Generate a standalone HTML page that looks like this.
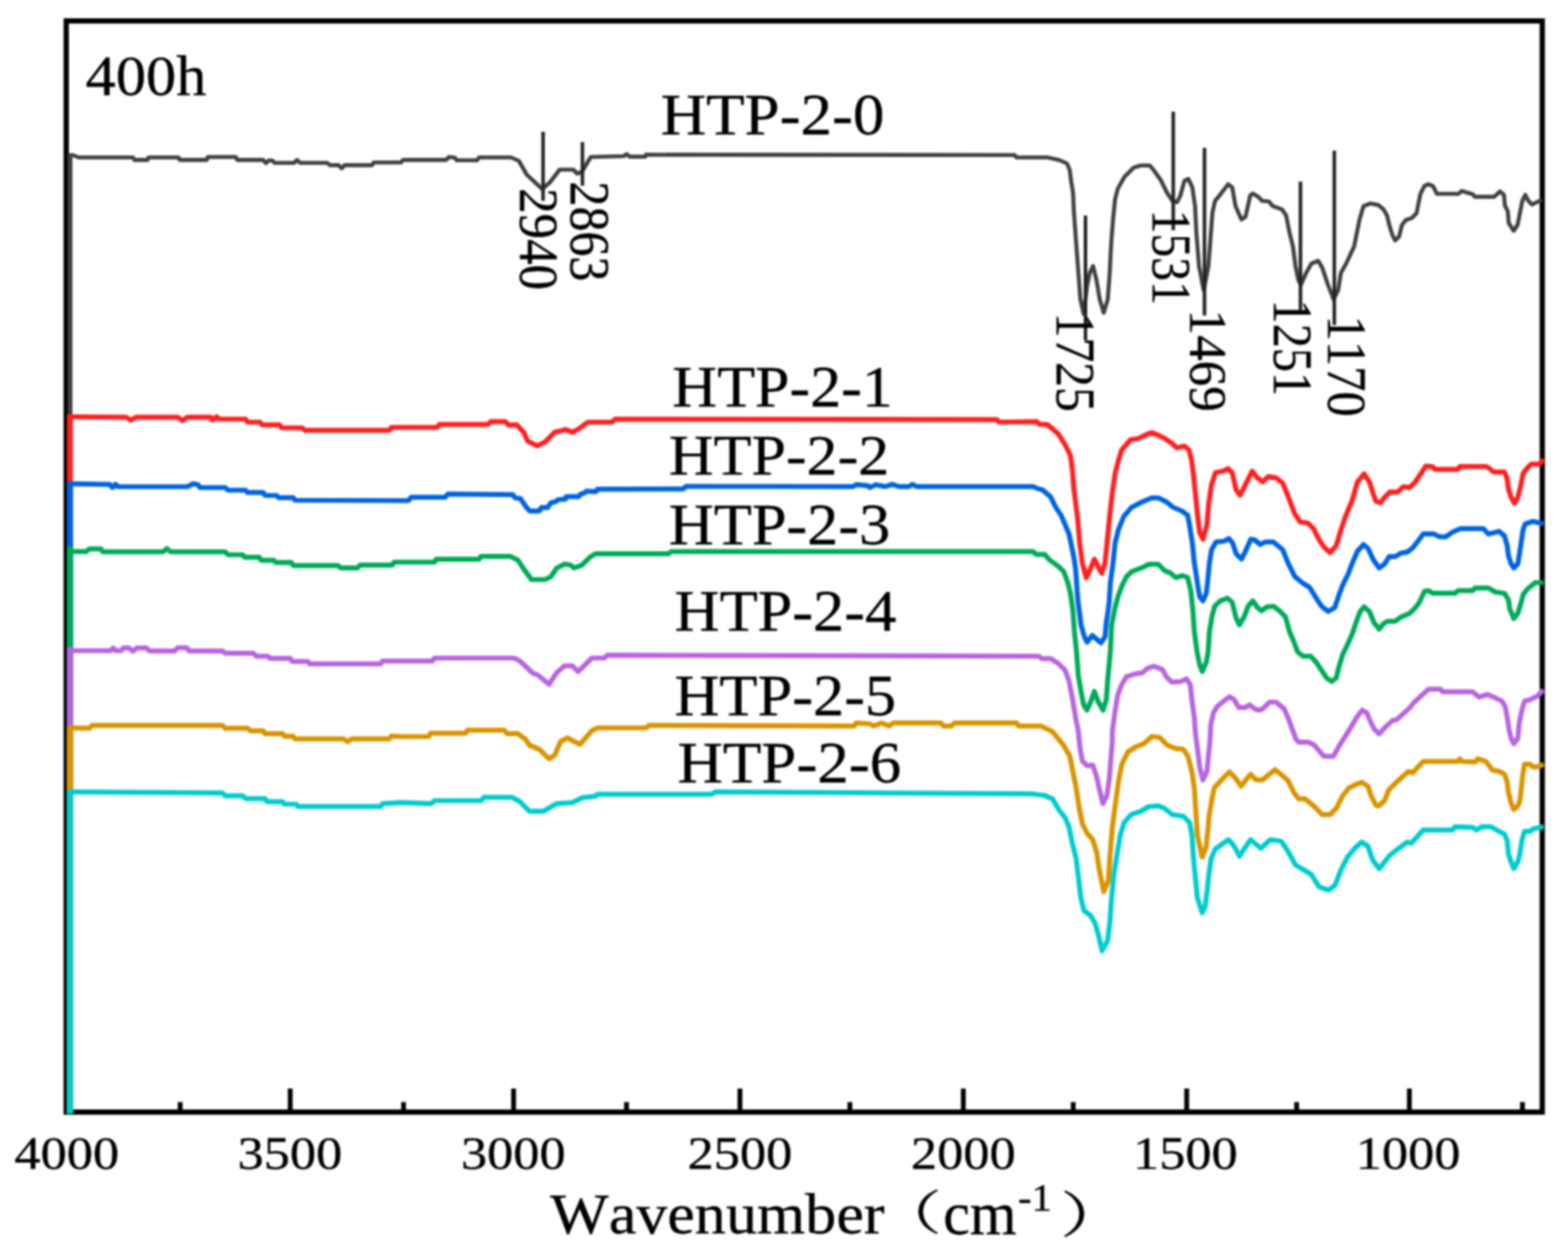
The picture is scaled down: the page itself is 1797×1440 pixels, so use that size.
<!DOCTYPE html><html><head><meta charset="utf-8"><title>FTIR 400h</title><style>html,body{margin:0;padding:0;background:#fff;}svg{display:block}text{font-kerning:none}</style></head><body>
<svg width="1797" height="1440" viewBox="0 0 1797 1440">
<rect width="1797" height="1440" fill="#fff"/>
<defs><filter id="soft" x="0" y="0" width="100%" height="100%" color-interpolation-filters="sRGB"><feGaussianBlur stdDeviation="0.8"/></filter></defs>
<g filter="url(#soft)">
<rect width="1797" height="1440" fill="#fff"/>
<rect x="75.9" y="24" width="1691.6" height="1251" fill="none" stroke="#000" stroke-width="6.0"/>
<line x1="332.6" y1="1248" x2="332.6" y2="1275" stroke="#000" stroke-width="5.5"/>
<line x1="588.6" y1="1248" x2="588.6" y2="1275" stroke="#000" stroke-width="5.5"/>
<line x1="848" y1="1248" x2="848" y2="1275" stroke="#000" stroke-width="5.5"/>
<line x1="1104" y1="1248" x2="1104" y2="1275" stroke="#000" stroke-width="5.5"/>
<line x1="1360" y1="1248" x2="1360" y2="1275" stroke="#000" stroke-width="5.5"/>
<line x1="1615.2" y1="1248" x2="1615.2" y2="1275" stroke="#000" stroke-width="5.5"/>
<line x1="206.5" y1="1263.5" x2="206.5" y2="1275" stroke="#000" stroke-width="5.5"/>
<line x1="462.5" y1="1263.5" x2="462.5" y2="1275" stroke="#000" stroke-width="5.5"/>
<line x1="718" y1="1263.5" x2="718" y2="1275" stroke="#000" stroke-width="5.5"/>
<line x1="974" y1="1263.5" x2="974" y2="1275" stroke="#000" stroke-width="5.5"/>
<line x1="1230" y1="1263.5" x2="1230" y2="1275" stroke="#000" stroke-width="5.5"/>
<line x1="1486" y1="1263.5" x2="1486" y2="1275" stroke="#000" stroke-width="5.5"/>
<line x1="1744.8" y1="1263.5" x2="1744.8" y2="1275" stroke="#000" stroke-width="5.5"/>
<line x1="80.2" y1="1277" x2="80.2" y2="176" stroke="#404040" stroke-width="5.52"/>
<path d="M79.5 177.8 L84 178 L90 180.5 L152.4 180.5 L154 183.4 L169 183.4 L170 180.5 L204.7 180.5 L206 183.4 L237 183.4 L238 180 L270.3 180 L272 183.4 L301.5 183.4 L304.8 187 L308 184 L312 184 L314.9 186.7 L337.1 186.7 L340.4 183.4 L343.8 186.7 L375 186.7 L378 189.4 L388 189.4 L391.7 193 L395 189.4 L426.2 189.4 L428.4 186.3 L459.5 186.3 L461.8 183.4 L511.2 183.4 L514.6 180 L521.2 180.7 L523.5 183.8 L546.8 183.8 L549 180.5 L585.8 180.5 L594.7 184.5 L603.6 200.1 L621.4 216.8 L630.3 209 L641.4 194.5 L657 194.5 L661.5 199 L667 196.8 L677 180 L714.9 179 L718.2 176.7 L721.6 179.6 L739.4 179.6 L740.5 177.4 L1162.8 177.8 L1165 180.5 L1200.6 180.5 L1213.8 183.5 L1222.9 187.5 L1226 195.1 L1227.5 207.4 L1229.8 221.1 L1230.6 241 L1233.6 282.2 L1235.9 312.8 L1238.2 343.3 L1242 360.2 L1245.8 328 L1248.9 312.8 L1252.7 305.1 L1256.5 320.4 L1260.4 343.3 L1264.9 358.6 L1269.5 343.3 L1271.8 312.8 L1273.3 282.2 L1275.6 251.7 L1277.9 228.8 L1281 216.5 L1288.6 202.8 L1299.3 192.1 L1307 189.8 L1317.6 189.8 L1322.2 195.1 L1329.9 205.8 L1337.5 221.1 L1343.6 230.3 L1349 231.8 L1352.8 224.2 L1357.4 207.4 L1362 205.1 L1366.5 215 L1369.6 236.4 L1371.1 267 L1374.2 305.1 L1379.5 332.7 L1384.9 305.1 L1387.2 274.6 L1389.5 244 L1392.5 230.3 L1397.6 224.2 L1407.6 211.2 L1412.2 215 L1416 236.4 L1422.8 251.7 L1427.4 248.6 L1432.8 224.2 L1435.8 221.9 L1442 225.7 L1446.5 230.3 L1454.2 231 L1458.8 236.4 L1469.4 240.2 L1474 247.1 L1477.9 267 L1481.7 282.2 L1484.7 305.1 L1487.8 320.4 L1490.8 326.5 L1497 312.8 L1503 302.1 L1510.7 299 L1515.3 306.7 L1521.4 325 L1528.3 343.3 L1533.6 332.7 L1536.7 312.8 L1542.8 302.1 L1552 282.2 L1555 267 L1558.1 251.7 L1562.6 236.4 L1570.3 233.3 L1579.5 234.9 L1585.6 240.1 L1589.5 246.8 L1592.2 257.9 L1595.6 269 L1598.9 275.7 L1603.4 271.3 L1606.7 257.9 L1611.2 252.3 L1617.8 250.1 L1623.4 244.6 L1625.6 233.4 L1627.9 222.3 L1632.3 213.4 L1636.8 211.2 L1642.3 213.4 L1646.8 222.3 L1671.3 222.3 L1675.2 219 L1688 222.8 L1690.2 225.6 L1712.4 225.6 L1719.1 219.5 L1723.6 223.4 L1724.7 235.6 L1728 242.3 L1729.1 255.7 L1734.7 264.6 L1739.2 257.9 L1742.5 241.2 L1744.7 230.1 L1748.1 223.4 L1751.4 230.1 L1755.8 234.5 L1760.3 232.3 L1767 229" fill="none" stroke="#404040" stroke-width="4.6" stroke-linejoin="round" stroke-linecap="butt"/>
<line x1="80.2" y1="1277" x2="80.2" y2="475.45" stroke="#ff2020" stroke-width="6.84"/>
<path d="M79.5 477.8 L144.6 478.3 L150.1 481.8 L155.7 478.3 L203.6 478.3 L209.1 482.3 L214.7 478.3 L241.4 478.3 L243.6 481.8 L248.1 477.8 L251.4 480.5 L281.5 480.5 L283.7 484 L298.2 484 L300.4 487.2 L320.4 487.2 L322.6 490.5 L346 490.5 L349.4 493.4 L446.2 493.4 L448.4 490 L501.2 490 L503.4 486.7 L559.1 486.7 L562.4 483.4 L579.1 483.4 L582.4 487.2 L592.4 487.2 L600.2 495.6 L604.7 505.6 L615.8 511.2 L624.7 506.7 L635.8 495.6 L644.8 493.4 L648.1 492.3 L655.9 495.6 L662.6 492.3 L673.7 484 L701.5 484 L704.9 480.5 L1142.7 481.1 L1144.9 484 L1188.3 483.4 L1190.6 486.3 L1200.7 486.8 L1212.9 497.5 L1220.6 509.7 L1226.7 522 L1229 538.8 L1230.5 558.6 L1232.8 577 L1235.1 595.3 L1237.4 622.8 L1240.4 645.7 L1245 662.5 L1250.4 650.3 L1254.2 641.1 L1258.8 650.3 L1262.6 657.2 L1266.4 645.7 L1268.7 622.8 L1271.7 592.2 L1274.8 564.7 L1277.9 543.3 L1281.7 528.1 L1285.5 515.8 L1295.4 504.4 L1304.6 502.8 L1312.2 499 L1319.9 496 L1327.5 499 L1335.1 502.8 L1342.8 508.2 L1348.9 513.5 L1357.3 511.3 L1362.6 515.8 L1365.7 528.1 L1368 546.4 L1370.3 569.3 L1372.6 592.2 L1374.9 610.6 L1378.7 618.2 L1383.1 602 L1385.3 577 L1388.4 556 L1393 541.8 L1401.4 540.3 L1407.5 537.2 L1412.1 541.8 L1416.7 561.7 L1421.3 567.8 L1427.4 555.6 L1435 540.3 L1441.1 547.9 L1447.2 552.5 L1453.3 546.4 L1462.5 547.9 L1470.1 554 L1476.3 569.3 L1483.9 589.2 L1490 598.3 L1499.2 599.9 L1505.3 606 L1511.4 618.2 L1517.5 627.4 L1524.4 633.5 L1531.3 625.8 L1535.8 610.6 L1542 592.2 L1549.6 573.9 L1555.7 552.5 L1563.3 543.3 L1569.5 552.5 L1573.1 564.1 L1576.9 574.8 L1582.2 576.4 L1586.8 570.3 L1592.9 564.1 L1602.1 564.1 L1608.2 558 L1615.8 558.8 L1621.9 552.7 L1626.5 545.8 L1634.1 534.4 L1641.8 535.1 L1644.8 538.2 L1670.8 538.2 L1673.1 534.8 L1702.9 534.8 L1707.4 537.4 L1712 541.2 L1724.2 541.2 L1727.3 548.9 L1728.8 561.1 L1731.9 570.3 L1735.7 577.1 L1739.5 570.3 L1742.6 558 L1745.6 542.8 L1750.2 536.7 L1754.8 532.1 L1764 532.1 L1769 526.7" fill="none" stroke="#ff2020" stroke-width="5.7" stroke-linejoin="round" stroke-linecap="butt"/>
<line x1="80.2" y1="1277" x2="80.2" y2="552.25" stroke="#0064e0" stroke-width="6.84"/>
<path d="M79.5 554.6 L125.6 555.3 L129 559 L132.3 555.3 L135.7 558 L214.7 558 L221.4 554.6 L226.9 555.7 L229.2 559 L258.1 559 L261.4 562 L281.5 562 L283.7 564.6 L301.5 564.6 L303.7 568 L317.1 568 L319.3 570.6 L336 570.6 L338.2 573.5 L468 574 L471.1 570.2 L510.1 570.2 L513.4 566.4 L587.6 567.2 L590.3 570.7 L596.5 571.6 L599.2 575.6 L602.7 581 L607.2 585.9 L617.9 585.9 L620.6 581.9 L627.7 581.9 L631.2 576.5 L636.6 575.2 L639.3 573 L648.2 572.1 L649 569.4 L663.3 569.4 L665.1 566.7 L670.4 564.9 L671.8 563.2 L682.9 563.6 L684.7 560.9 L782.8 560.6 L786.1 557.5 L978 557.9 L981.3 555.7 L994.7 556.8 L996.9 559 L1003.6 555.7 L1014.7 557.9 L1022.5 555.3 L1030.3 557.9 L1041.4 557.9 L1045.9 555.3 L1050.3 557.9 L1183.9 557.9 L1190 560.5 L1194.6 561.5 L1203.8 569.3 L1209.9 581.5 L1216 590.7 L1220.6 601.4 L1225.1 612.1 L1227.4 622.8 L1230.5 638.1 L1232.8 653.3 L1234.3 675 L1235.5 690 L1237.4 704.2 L1238.9 716.4 L1242.7 730.1 L1245.8 736.3 L1251.9 728.6 L1257.2 733.2 L1261.8 737 L1266.4 730.1 L1267.9 713.3 L1269.4 704.2 L1271.2 690 L1272.5 668.6 L1275.6 645.7 L1277.9 622.8 L1281.7 607.5 L1287.8 592.2 L1297 581.5 L1309.2 575.4 L1319.9 570.8 L1327.5 570.8 L1336.7 575.4 L1344.3 581.5 L1355 586.1 L1361.1 590.7 L1363.4 602.9 L1366.5 622.8 L1368.8 645.7 L1370.8 658 L1372.6 670.6 L1374.9 684.3 L1378.7 688.9 L1382.5 680 L1384 667 L1386 645.7 L1388.5 630.4 L1393.8 621.3 L1402.9 620.5 L1408.3 617.4 L1412.8 622.8 L1416.7 635 L1422.8 641.1 L1427.4 632 L1433.5 618.2 L1438.1 619 L1444.2 624.3 L1450.3 621.3 L1459.4 621.3 L1470.1 630.4 L1476.3 645.7 L1483.9 661 L1493.1 668.6 L1500.7 673.2 L1508.3 685.4 L1514.5 695 L1522.1 701.1 L1529.7 696.5 L1534.3 682.8 L1538.9 670.6 L1545 658.3 L1549.6 646.1 L1555.7 632 L1562.6 624.3 L1567.9 628.9 L1574 642 L1580.7 651.2 L1586.8 646.6 L1592.1 638.2 L1599 638.2 L1605.1 634.4 L1612.8 632.9 L1618.9 628.3 L1625 620.6 L1631.1 612.2 L1643.3 612.2 L1649.4 615.3 L1657 615.3 L1664.7 610 L1673.8 606.1 L1699.8 606.1 L1705.9 612.2 L1718.1 609.2 L1724.2 614.5 L1727.3 625.2 L1728.8 637.4 L1731.9 646.6 L1734.9 651.2 L1739.5 646.6 L1741 637.4 L1743.3 622.2 L1745.6 606.9 L1747.9 600.8 L1757.1 597.7 L1769 600.8" fill="none" stroke="#0064e0" stroke-width="5.7" stroke-linejoin="round" stroke-linecap="butt"/>
<line x1="80.2" y1="1277" x2="80.2" y2="626.55" stroke="#00aa5a" stroke-width="6.84"/>
<path d="M79.5 628.9 L83.4 632.3 L98.9 632.3 L102.3 629.4 L115.6 629.4 L117.9 632.7 L186.9 632.7 L191.3 628.9 L195.8 632.7 L258.1 632.7 L261.4 636 L278.1 636 L280.4 638.9 L297 638.9 L299.3 642.3 L313.7 642.3 L316 644.9 L333.8 644.9 L336 648.3 L387.2 648.3 L390.5 651.2 L409.5 651.2 L412.8 647.8 L449.5 647.8 L451.7 644.5 L497.8 644.5 L500.1 641.2 L549 641.2 L551.3 637.8 L584.7 637.8 L593.6 642.3 L600.2 652.3 L609.1 664.5 L624.7 664.5 L631.4 661.2 L638.1 651.2 L647 646.7 L653.7 647.8 L658.1 651.2 L667 647.8 L675.9 638.9 L682.6 634.9 L766.1 634.9 L769.4 632.3 L1183.9 632.3 L1187.2 635.6 L1197.4 635.5 L1202.2 641.5 L1212.9 649.2 L1219 655.3 L1223.6 667.5 L1226.7 679.7 L1229.7 701.1 L1231.3 724 L1233.5 743.9 L1235.8 774.5 L1238.9 792.8 L1241.9 808.1 L1245.8 814.2 L1250.4 803.5 L1254.2 792.8 L1258.8 805 L1264.1 814.2 L1267.9 802 L1269.4 780.6 L1272.5 747 L1274 716.4 L1277.9 696.5 L1281.7 682.8 L1286.3 670.6 L1290.8 661.4 L1297 655.3 L1309.2 650.7 L1316.8 646.9 L1327.5 646.9 L1335.1 654.5 L1341.3 656.8 L1347.4 662.2 L1355 659.9 L1361.1 662.2 L1364.9 678.2 L1367.2 701.1 L1368.8 724 L1371.8 747 L1374.9 762.2 L1377.9 769.9 L1382.5 759.2 L1384.6 747 L1386.1 724 L1389.2 705.7 L1392.2 695 L1398.3 688.9 L1406.7 685.8 L1412.1 690.4 L1416.7 708.8 L1420.5 716.4 L1425.8 707.2 L1430.4 695 L1435.8 688.9 L1441.1 696.5 L1445.7 700.4 L1451.8 695.8 L1459.4 695 L1467.1 701.1 L1473.2 707.2 L1477.8 724 L1482.4 734.7 L1487 747 L1493.1 752.3 L1502.2 752.3 L1508.3 759.2 L1514.5 768.3 L1520.6 777.5 L1525.9 781.3 L1531.3 777.5 L1534.3 765.3 L1538.9 750 L1543.5 740.8 L1549.6 727.1 L1554.2 713.3 L1558.8 701.1 L1563.3 695.8 L1569.5 701.1 L1574.6 713.8 L1580.7 721.4 L1585.3 715.3 L1589.9 712.3 L1599 712.3 L1605.1 707.7 L1615.8 703.1 L1621.9 697 L1626.5 690.9 L1632.6 677.9 L1637.2 677.2 L1641.8 680.2 L1667.7 680.2 L1670.8 677.2 L1687.6 677.2 L1690.6 674.1 L1705.9 674.1 L1713.6 678.7 L1724.2 680.2 L1728.8 687.8 L1730.4 698.5 L1734.9 709.2 L1739.5 703.1 L1743.3 690.9 L1745.6 681.7 L1750.2 675.6 L1759.4 668 L1769 668" fill="none" stroke="#00aa5a" stroke-width="5.7" stroke-linejoin="round" stroke-linecap="butt"/>
<line x1="80.2" y1="1277" x2="80.2" y2="742.15" stroke="#b865e0" stroke-width="6.84"/>
<path d="M79.5 744.5 L83.4 746 L126.8 746 L129.7 742.9 L132.3 746 L139 746 L141.2 742.9 L147.9 742.9 L152.4 746.7 L156.8 742.9 L167.9 742.9 L171.3 746.3 L200.2 746.3 L203.6 742.7 L213.6 742.7 L216.9 746.3 L254.8 746.3 L258.1 748.9 L290.4 748.9 L293.7 752.3 L307.1 752.3 L309.3 754.9 L332.7 754.9 L334.9 758.3 L352.7 758.3 L354.9 761.2 L436.2 761.2 L438.4 757.8 L495.6 757.8 L497.8 754.5 L589.1 754.5 L595.8 757.8 L611.4 772.3 L615.8 773.4 L629.2 784.6 L638.1 771.2 L647 763.4 L655.9 763.4 L662.6 770.1 L678.1 754.5 L692.6 754.5 L696 751.2 L1190.6 752.3 L1193.9 755.2 L1203.8 755 L1212.9 760.7 L1220.6 768.3 L1225.1 780.6 L1229 800.4 L1232.8 823.3 L1235.8 838.6 L1237.8 858 L1240.5 872.5 L1246 877.9 L1252.3 877 L1256.8 890.5 L1260.4 906.8 L1264 921.2 L1268.5 912.2 L1271.2 894.2 L1273 872.5 L1274.8 849 L1274.8 838.6 L1277.9 815.7 L1280.9 797.4 L1284.7 786.7 L1290.8 776 L1300 772.9 L1309.2 771.4 L1315.3 766.1 L1322.9 763.8 L1332.1 767.6 L1336.7 776 L1342.8 782.1 L1353.5 781.3 L1359.6 778.3 L1364.2 785.2 L1365.7 800.4 L1368.8 823.3 L1370.3 843.2 L1372.3 858 L1375 879.7 L1378.6 894.2 L1383.1 885.1 L1384.9 867.1 L1386.7 849 L1387.6 831 L1390.7 817.2 L1395.3 809.6 L1402.9 803.5 L1409 798.9 L1414.4 802 L1419.7 811.1 L1427.4 811.1 L1431.9 808.1 L1438.1 812.7 L1442.6 814.2 L1447.2 812.7 L1454.9 805 L1462.5 805 L1471.7 812.7 L1476.3 823.3 L1480.8 835.6 L1485.4 847.8 L1488.3 850.8 L1499.1 850.8 L1506.4 854.4 L1517.2 867.1 L1528 867.1 L1535.2 854.4 L1540.4 846.3 L1548.1 834 L1554.2 823.3 L1561.1 814.2 L1566.4 817.2 L1571 828 L1575 836 L1580.7 841.3 L1586.8 834.4 L1596 826 L1600.5 825.2 L1615.8 811.5 L1620.4 805.4 L1637.2 790.1 L1650.9 790.1 L1653.2 793.2 L1687.6 793.2 L1695.2 799.3 L1704.4 796.2 L1712 799.3 L1721.2 803.8 L1725 810 L1727.3 822.2 L1729.6 837.4 L1731.9 846.6 L1734.9 852.7 L1739.5 846.6 L1741 829.8 L1744.1 814.5 L1747.2 803.8 L1753.3 802.3 L1762.4 797.7 L1768.5 790.9" fill="none" stroke="#b865e0" stroke-width="5.7" stroke-linejoin="round" stroke-linecap="butt"/>
<line x1="80.2" y1="1277" x2="80.2" y2="832.15" stroke="#d99400" stroke-width="6.84"/>
<path d="M79.5 834.5 L102.3 834.9 L105.6 831.6 L254.8 831.6 L258.1 834.9 L283.7 834.9 L287 837.8 L301.5 837.8 L303.7 841.2 L323.8 841.2 L326 844.1 L336 844.1 L338.2 847.2 L393.9 847.2 L398.3 850.5 L402.8 847.2 L446.2 847.2 L448.4 843.8 L460 844.5 L491.2 844.5 L493.4 840.7 L533.5 840.7 L535.7 837.2 L578 837.2 L581.3 841.2 L593.6 841.2 L602.5 847.8 L606.9 854.5 L618 859 L629.2 870.1 L635.9 865.6 L642.5 850.1 L650.3 846.1 L658.1 850.1 L664.8 853.4 L671.5 845.6 L678.1 837.8 L684.8 834.5 L740.5 834.5 L743.8 831.6 L979.1 832.3 L981.3 828.9 L996.9 830 L1001.4 832.3 L1010.3 828.9 L1019.2 832.3 L1023.6 828.9 L1078.2 828.9 L1081.5 832.3 L1090.4 832.3 L1093.7 828.9 L1165 828.9 L1167.2 832.3 L1192.8 832.3 L1206.2 838.9 L1218.9 854.4 L1226.1 867.1 L1229.7 885.1 L1233.3 903.2 L1236.9 926.6 L1240.5 944.7 L1246 955.5 L1252.3 962.7 L1256.8 977.2 L1259.5 995.2 L1264.9 1022.3 L1270.3 1009.7 L1272.1 980.8 L1274.8 948.3 L1278.4 921.2 L1282.1 894.2 L1285.7 876.1 L1292.9 861.7 L1301.9 856.2 L1310.9 852.6 L1320 844.5 L1329 845.4 L1338 854.4 L1347 858.1 L1356.1 859 L1361.5 867.1 L1366 885.1 L1368.7 903.2 L1370.5 930.3 L1372.3 957.3 L1377.7 982.6 L1382 972 L1384 955 L1385.6 935.7 L1389 915.8 L1391.7 903.2 L1399.9 894.2 L1408.9 885.1 L1416.1 892.3 L1422.4 901.4 L1427.8 894.2 L1433.2 887.8 L1439.6 894.2 L1446.8 894.2 L1461.2 882.4 L1475.7 894.2 L1482.9 908.6 L1488.3 915.8 L1495.5 915.8 L1506.4 924.8 L1515.4 933.9 L1524.4 933.9 L1531.6 926.6 L1538.8 912.2 L1546.1 903.2 L1553.3 899.6 L1560.5 896.9 L1567.7 901.4 L1571.3 912.2 L1576.8 923 L1579.9 924.1 L1586.8 918 L1591.4 905.8 L1600.5 896.7 L1614.3 884.4 L1618.9 886 L1631.1 873 L1670.8 873 L1673.1 869.9 L1675.4 873 L1690.6 873.7 L1693.7 869.9 L1702.9 873 L1710.5 882.9 L1718.1 884.4 L1724.2 887.5 L1727.3 896.7 L1728.8 908.9 L1731.9 921.1 L1734.9 928 L1739.5 924.1 L1741.8 918 L1743.3 905.8 L1744.9 890.5 L1747.2 876 L1753.3 876 L1756.3 879.1 L1762.4 879.1 L1769 876" fill="none" stroke="#d99400" stroke-width="5.7" stroke-linejoin="round" stroke-linecap="butt"/>
<line x1="80.2" y1="1277" x2="80.2" y2="905.55" stroke="#00cccc" stroke-width="6.84"/>
<path d="M79.5 907.9 L254.8 909.1 L258.1 912.4 L278.1 912.4 L281.5 915.7 L303.7 915.7 L306 919.1 L323.8 919.1 L326 922 L339.3 922 L341.6 924.6 L436.2 924.6 L438.4 921.3 L460 920.2 L494.5 921.3 L497.8 918 L551.3 918 L554.6 914.2 L586.9 914.2 L595.8 919.1 L606.9 930.2 L622.5 930.2 L638.1 921.3 L655.9 920.2 L667 914.6 L682.6 912.8 L684.8 910.6 L816.2 910.6 L819.5 907.9 L1183.9 910.2 L1197.2 912 L1206.2 915.8 L1213.5 928.4 L1220.7 937.5 L1225.2 948.3 L1228.8 966.4 L1233.3 984.4 L1236 1006.1 L1238.7 1029.5 L1242.3 1044 L1249.6 1049.4 L1255 1058.4 L1258.6 1071 L1263.1 1090 L1269.4 1078.3 L1272.1 1056.6 L1273.9 1029.5 L1276.6 1002.5 L1280.3 979 L1283.9 957.3 L1288.4 942.9 L1296.5 933.9 L1307.3 930.3 L1316.4 924.8 L1327.2 923.9 L1334.4 926.6 L1343.4 933.9 L1356.1 935.7 L1363.3 942.9 L1366 957.3 L1367.8 984.4 L1369.6 1002.5 L1372.3 1029.5 L1377.7 1046.5 L1381 1040 L1383.6 1020.5 L1385.4 1002.5 L1388 984.4 L1392.6 973.6 L1399.9 968.2 L1408 962.7 L1414.3 970 L1420.6 981.7 L1426.9 971.8 L1433.2 962.7 L1445 972.7 L1455.8 962.7 L1468.4 964.5 L1475.7 975.4 L1484.7 991.6 L1493.7 997 L1502.7 1002.5 L1511.8 1016.9 L1522.6 1020.5 L1529.8 1015.1 L1537 997 L1544.3 982.6 L1553.3 971.8 L1560.5 965.5 L1567.7 970 L1573.1 986 L1580.7 995.9 L1586.8 988.3 L1592.9 980.6 L1600.5 974.5 L1612.8 965.4 L1617.3 966.9 L1631.1 951.6 L1664.7 951.6 L1667.7 947.8 L1687.6 948.6 L1692.2 951.6 L1698.3 947.8 L1709 947.8 L1715.1 951.6 L1724.2 956.2 L1727.3 963.8 L1728.8 979.1 L1731.9 988.3 L1734.9 995.9 L1739.5 988.3 L1741.8 979.1 L1744.1 963.8 L1747.2 953.2 L1753.3 953.2 L1757.8 950.1 L1769 947.8" fill="none" stroke="#00cccc" stroke-width="5.7" stroke-linejoin="round" stroke-linecap="butt"/>
<line x1="622.4" y1="151.1" x2="622.4" y2="230.3" stroke="#222" stroke-width="4"/>
<line x1="667.5" y1="162.9" x2="667.5" y2="212.9" stroke="#222" stroke-width="4"/>
<line x1="1244" y1="247.1" x2="1244" y2="390" stroke="#222" stroke-width="4"/>
<line x1="1344.6" y1="128" x2="1344.6" y2="263.9" stroke="#222" stroke-width="4"/>
<line x1="1380.4" y1="169.4" x2="1380.4" y2="361.7" stroke="#222" stroke-width="4"/>
<line x1="1490.4" y1="208.2" x2="1490.4" y2="355.6" stroke="#222" stroke-width="4"/>
<line x1="1529.2" y1="172.8" x2="1529.2" y2="372.4" stroke="#222" stroke-width="4"/>
<text transform="translate(98.12 109.39) scale(0.6919 0.6563)" font-family='"Liberation Serif", "Times New Roman", serif' font-size="100" fill="#000" stroke="#000" stroke-width="0.59">400h</text>
<text transform="translate(757.24 154.07) scale(0.7212 0.6672)" font-family='"Liberation Serif", "Times New Roman", serif' font-size="100" fill="#000" stroke="#000" stroke-width="0.58">HTP-2-0</text>
<text transform="translate(770.57 466) scale(0.7107 0.6667)" font-family='"Liberation Serif", "Times New Roman", serif' font-size="100" fill="#000" stroke="#000" stroke-width="0.58">HTP-2-1</text>
<text transform="translate(766.47 543.9) scale(0.7107 0.6631)" font-family='"Liberation Serif", "Times New Roman", serif' font-size="100" fill="#000" stroke="#000" stroke-width="0.58">HTP-2-2</text>
<text transform="translate(766.46 624.22) scale(0.7140 0.6788)" font-family='"Liberation Serif", "Times New Roman", serif' font-size="100" fill="#000" stroke="#000" stroke-width="0.57">HTP-2-3</text>
<text transform="translate(773.06 722.6) scale(0.7148 0.6785)" font-family='"Liberation Serif", "Times New Roman", serif' font-size="100" fill="#000" stroke="#000" stroke-width="0.57">HTP-2-4</text>
<text transform="translate(773.06 820.32) scale(0.7140 0.6773)" font-family='"Liberation Serif", "Times New Roman", serif' font-size="100" fill="#000" stroke="#000" stroke-width="0.57">HTP-2-5</text>
<text transform="translate(776.44 897.24) scale(0.7212 0.6791)" font-family='"Liberation Serif", "Times New Roman", serif' font-size="100" fill="#000" stroke="#000" stroke-width="0.57">HTP-2-6</text>
<text transform="translate(596.05 215.66) rotate(90) scale(0.5839 0.6269)" font-family='"Liberation Serif", "Times New Roman", serif' font-size="100" fill="#000" stroke="#000" stroke-width="0.66">2940</text>
<text transform="translate(653.7 208.01) rotate(90) scale(0.5734 0.6478)" font-family='"Liberation Serif", "Times New Roman", serif' font-size="100" fill="#000" stroke="#000" stroke-width="0.66">2863</text>
<text transform="translate(1210.73 358.59) rotate(90) scale(0.5674 0.6269)" font-family='"Liberation Serif", "Times New Roman", serif' font-size="100" fill="#000" stroke="#000" stroke-width="0.67">1725</text>
<text transform="translate(1320.83 240.6) rotate(90) scale(0.5443 0.6269)" font-family='"Liberation Serif", "Times New Roman", serif' font-size="100" fill="#000" stroke="#000" stroke-width="0.68">1531</text>
<text transform="translate(1363.84 354.82) rotate(90) scale(0.5866 0.6176)" font-family='"Liberation Serif", "Times New Roman", serif' font-size="100" fill="#000" stroke="#000" stroke-width="0.66">1469</text>
<text transform="translate(1459.74 343.52) rotate(90) scale(0.5535 0.6403)" font-family='"Liberation Serif", "Times New Roman", serif' font-size="100" fill="#000" stroke="#000" stroke-width="0.67">1251</text>
<text transform="translate(1522.06 361.68) rotate(90) scale(0.5802 0.6309)" font-family='"Liberation Serif", "Times New Roman", serif' font-size="100" fill="#000" stroke="#000" stroke-width="0.66">1170</text>
<text transform="translate(630.5 1414.29) scale(0.7115 0.6563)" font-family='"Liberation Serif", "Times New Roman", serif' font-size="100" fill="#000" stroke="#000" stroke-width="0.58">Wavenumber</text>
<text transform="translate(1003.02 1410.34) scale(0.7643 0.5398)" font-family='"Noto Serif CJK SC", "Noto Sans CJK SC", serif' font-size="100" fill="#000" stroke="#000" stroke-width="0.61">（</text>
<text transform="translate(1081.04 1415.09) scale(0.6889 0.7062)" font-family='"Liberation Serif", "Times New Roman", serif' font-size="100" fill="#000" stroke="#000" stroke-width="0.57">cm</text>
<text transform="translate(1166.84 1388) scale(0.4644 0.4424)" font-family='"Liberation Serif", "Times New Roman", serif' font-size="100" fill="#000" stroke="#000" stroke-width="0.88">-1</text>
<text transform="translate(1214.68 1412.51) scale(0.7893 0.5656)" font-family='"Noto Serif CJK SC", "Noto Sans CJK SC", serif' font-size="100" fill="#000" stroke="#000" stroke-width="0.59">）</text>
<text transform="translate(16.5 1340.36) scale(0.6000 0.5209)" font-family='"Liberation Serif", "Times New Roman", serif' font-size="100" fill="#000" stroke="#000" stroke-width="0.71">4000</text>
<text transform="translate(272.3 1340.36) scale(0.6000 0.5209)" font-family='"Liberation Serif", "Times New Roman", serif' font-size="100" fill="#000" stroke="#000" stroke-width="0.71">3500</text>
<text transform="translate(528.3 1340.36) scale(0.6000 0.5209)" font-family='"Liberation Serif", "Times New Roman", serif' font-size="100" fill="#000" stroke="#000" stroke-width="0.71">3000</text>
<text transform="translate(788 1340.36) scale(0.6000 0.5209)" font-family='"Liberation Serif", "Times New Roman", serif' font-size="100" fill="#000" stroke="#000" stroke-width="0.71">2500</text>
<text transform="translate(1044 1340.36) scale(0.6000 0.5209)" font-family='"Liberation Serif", "Times New Roman", serif' font-size="100" fill="#000" stroke="#000" stroke-width="0.71">2000</text>
<text transform="translate(1298.51 1340.36) scale(0.5999 0.5210)" font-family='"Liberation Serif", "Times New Roman", serif' font-size="100" fill="#000" stroke="#000" stroke-width="0.71">1500</text>
<text transform="translate(1553.71 1340.36) scale(0.5999 0.5210)" font-family='"Liberation Serif", "Times New Roman", serif' font-size="100" fill="#000" stroke="#000" stroke-width="0.71">1000</text>
</g></svg></body></html>
